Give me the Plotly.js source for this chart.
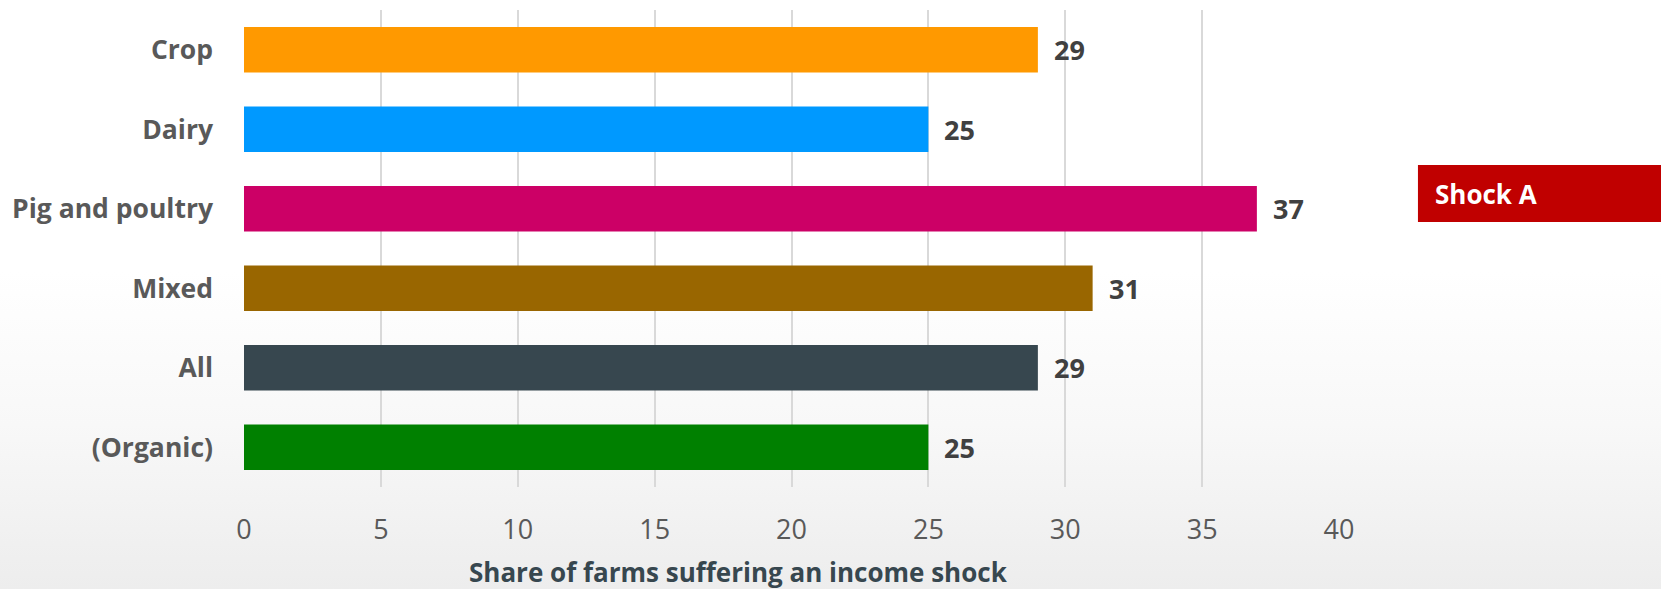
<!DOCTYPE html>
<html>
<head>
<meta charset="utf-8">
<script src="https://cdn.plot.ly/plotly-3.0.1.min.js"></script>
<style>
  html, body { margin: 0; padding: 0; }
  body {
    width: 1661px; height: 589px; overflow: hidden;
    background: linear-gradient(to bottom, #ffffff 0%, #ffffff 46%, #f8f8f8 72%, #ededed 100%);
  }
  #chart { width: 1661px; height: 589px; }
</style>
</head>
<body>
<div id="chart"></div>
<script>
// ---- data ----
const categories = ["Crop", "Dairy", "Pig and poultry", "Mixed", "All", "(Organic)"];
const shareValues = [29, 25, 37, 31, 29, 25];
const barColors = ["#FF9900", "#0099FF", "#CC0066", "#996600", "#37474F", "#008000"];
const xTickValues = [0, 5, 10, 15, 20, 25, 30, 35, 40];
const xAxisTitle = "Share of farms suffering an income shock";
const legendLabel = "Shock A";

const FONT = "Open Sans, Noto Sans, DejaVu Sans, sans-serif";

const trace = {
  type: "bar",
  orientation: "h",
  y: categories,
  x: shareValues,
  marker: { color: barColors, line: { width: 0 } },
  width: 0.57,
  hoverinfo: "skip",
  showlegend: false
};

const valueLabels = categories.map((c, i) => ({
  x: shareValues[i], y: c, xref: "x", yref: "y",
  text: String(shareValues[i]),
  showarrow: false, xanchor: "left", yanchor: "middle", xshift: 14,
  font: { family: FONT, size: 27, color: "#404040", weight: 700 }
}));

const layout = {
  width: 1661, height: 589,
  margin: { l: 244, r: 322, t: 10, b: 102, pad: 0 },
  paper_bgcolor: "rgba(0,0,0,0)",
  plot_bgcolor: "rgba(0,0,0,0)",
  xaxis: {
    range: [0, 40],
    tickvals: xTickValues,
    ticktext: xTickValues.map(String),
    showgrid: true, gridcolor: "#D9D9D9", gridwidth: 2,
    zeroline: false, showline: false, ticks: "",
    ticklabelstandoff: 24,
    tickfont: { family: FONT, size: 27, color: "#595959", weight: 400 },
    fixedrange: true
  },
  yaxis: {
    autorange: "reversed",
    showgrid: false, zeroline: false, showline: false, ticks: "",
    ticklabelstandoff: 30,
    tickfont: { family: FONT, size: 26.5, color: "#595959", weight: 700 },
    fixedrange: true
  },
  shapes: [{
    type: "rect", xref: "paper", yref: "paper",
    x0: 1.0721, x1: 1.30, y0: 0.5556, y1: 0.675,
    fillcolor: "#C00000", line: { width: 0 }, layer: "above"
  }],
  annotations: valueLabels.concat([
    {
      xref: "paper", yref: "paper", x: 1.0858, y: 0.6153,
      xanchor: "left", yanchor: "middle", showarrow: false,
      text: legendLabel,
      font: { family: FONT, size: 26, color: "#FFFFFF", weight: 700 }
    },
    {
      xref: "paper", yref: "paper", x: 0.452, y: -0.179,
      xanchor: "center", yanchor: "middle", showarrow: false,
      text: xAxisTitle,
      font: { family: FONT, size: 26, color: "#37474F", weight: 700 }
    }
  ]),
  showlegend: false
};

Plotly.newPlot("chart", [trace], layout, { displayModeBar: false, staticPlot: true });
</script>
</body>
</html>
